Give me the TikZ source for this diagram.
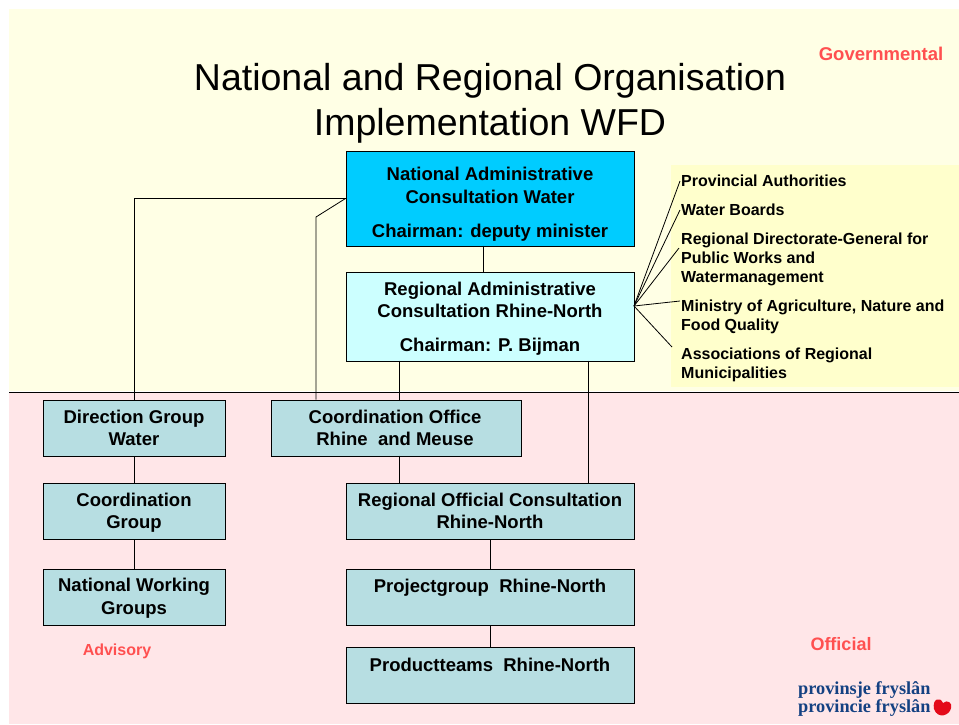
\documentclass[tikz,border=0pt]{standalone}
\usepackage{fontspec}
\setmainfont{Liberation Sans}
\newfontfamily\logofont{Liberation Serif}
\definecolor{govbg}{RGB}{255,255,229}
\definecolor{sidebg}{RGB}{255,255,204}
\definecolor{offbg}{RGB}{255,230,232}
\definecolor{natblue}{RGB}{0,204,255}
\definecolor{regblue}{RGB}{204,255,255}
\definecolor{boxteal}{RGB}{183,222,226}
\definecolor{lbl}{RGB}{255,80,80}
\definecolor{logoblue}{RGB}{20,65,130}
\definecolor{logored}{RGB}{228,10,25}
\tikzset{
 orgbox/.style={draw=black,line width=0.8pt,fill=boxteal,minimum width=#1,inner sep=0pt,anchor=north west},
 boxtext/.style={align=center,inner sep=0pt,font=\fontsize{18.5}{22}\selectfont\bfseries},
 link/.style={draw=black,line width=0.8pt},
 sidelbl/.style={anchor=north west,align=left,inner sep=0pt,font=\fontsize{16}{19}\selectfont\bfseries},
 tag/.style={text=lbl,font=\fontsize{18.5}{20}\selectfont\bfseries,inner sep=0pt},
 logotext/.style={anchor=west,inner sep=0pt,text=logoblue,font=\logofont\fontsize{18.3}{16}\selectfont\bfseries},
}
\begin{document}
\begin{tikzpicture}[x=1pt,y=-1pt]
\useasboundingbox (0,0) rectangle (959,724);
\fill[white] (0,0) rectangle (959,724);
\fill[govbg] (9,9) rectangle (959,391);
\fill[offbg] (9,392) rectangle (959,724);
\fill[sidebg] (671,165) rectangle (959,387);
\draw[line width=0.7pt] (9,392) -- (959,392);
\coordinate (ncl) at (345.5,198.5);
\coordinate (rf) at (634,306);
\coordinate (s1) at (680,181);
\coordinate (s2) at (680,210);
\coordinate (s3) at (679,248);
\coordinate (s4) at (680,301);
\coordinate (s5) at (672,347);
\node[orgbox=288pt,fill=natblue,minimum height=95pt] (nat) at (345.5,150.5) {};
\node[orgbox=288pt,fill=regblue,minimum height=89pt] (reg) at (345.5,271.5) {};
\node[orgbox=182pt,minimum height=56pt] (dg) at (43,399.5) {};
\node[orgbox=182pt,minimum height=56pt] (cg) at (43,482.5) {};
\node[orgbox=182pt,minimum height=56pt] (nw) at (43,568.5) {};
\node[orgbox=250pt,minimum height=56pt] (co) at (270.5,399.5) {};
\node[orgbox=288pt,minimum height=56pt] (ro) at (345.5,482.5) {};
\node[orgbox=288pt,minimum height=56pt] (pg) at (345.5,568.5) {};
\node[orgbox=288pt,minimum height=56pt] (pt) at (345.5,646.5) {};
\draw[link] (ncl) -- (dg.north |- ncl) -- (dg.north);
\draw[link] (ncl) -- (316,217) -- (316,399.5);
\draw[link] (483,245.5) -- (483,271.5);
\draw[link] (399,360.5) -- (399,399.5);
\draw[link] (399,455.5) -- (399,482.5);
\draw[link] (588,360.5) -- (588,482.5);
\draw[link] (dg.south) -- (cg.north);
\draw[link] (cg.south) -- (nw.north);
\draw[link] (ro.south) -- (pg.north);
\draw[link] (pg.south) -- (pt.north);
\foreach \t in {s1,s2,s3,s4,s5} \draw[link] (rf) -- (\t);
\node[align=center,inner sep=0pt,font=\fontsize{37.5}{45}\selectfont] (title) at (490,103) {National and Regional Organisation\\Implementation WFD};
\node[tag] (gov) at (881,54) {Governmental};
\node[tag,font=\fontsize{18}{20}\selectfont\bfseries] (off) at (841,644) {Official};
\node[tag,font=\fontsize{16}{18}\selectfont\bfseries] (adv) at (117,651) {Advisory};
\node[boxtext,font=\fontsize{18.5}{22.5}\selectfont\bfseries] (natt) at (490,185.5) {National Administrative\\Consultation Water};
\node[boxtext] (natc) at (490,232.5) {Chairman: deputy minister};
\node[boxtext,font=\fontsize{18.5}{22.5}\selectfont\bfseries] (regt) at (490,300) {Regional Administrative\\Consultation Rhine-North};
\node[boxtext] (regc) at (490,346.5) {Chairman: P. Bijman};
\node[boxtext] (dgt) at (134,428) {Direction Group\\Water};
\node[boxtext] (cgt) at (134,513) {Coordination\\Group};
\node[boxtext,font=\fontsize{18.5}{23}\selectfont\bfseries] (nwt) at (134,598) {National Working\\Groups};
\node[boxtext] (cot) at (395,428) {Coordination Office\\Rhine\ \ and Meuse};
\node[boxtext] (rot) at (490,511) {Regional Official Consultation\\Rhine-North};
\node[boxtext] (pgt) at (490,587.5) {Projectgroup\ \ Rhine-North};
\node[boxtext] (ptt) at (490,664.5) {Productteams\ \ Rhine-North};
\node[sidelbl] (t1) at (681,175) {Provincial Authorities};
\node[sidelbl] (t2) at (681,204) {Water Boards};
\node[sidelbl] (t3) at (681,233) {Regional Directorate-General for\\Public Works and\\Watermanagement};
\node[sidelbl] (t4) at (681,300) {Ministry of Agriculture, Nature and\\Food Quality};
\node[sidelbl] (t5) at (681,348) {Associations of Regional\\Municipalities};
\node[logotext] (l1) at (798,690) {provinsje fryslân};
\node[logotext] (l2) at (798,708) {provincie fryslân};
\fill[logored] (934,709) .. controls (932,699) and (940,696) .. (943,703) .. controls (947,699) and (953,703) .. (951,708) .. controls (950,715) and (938,720) .. (934,709) -- cycle;
\end{tikzpicture}
\end{document}
